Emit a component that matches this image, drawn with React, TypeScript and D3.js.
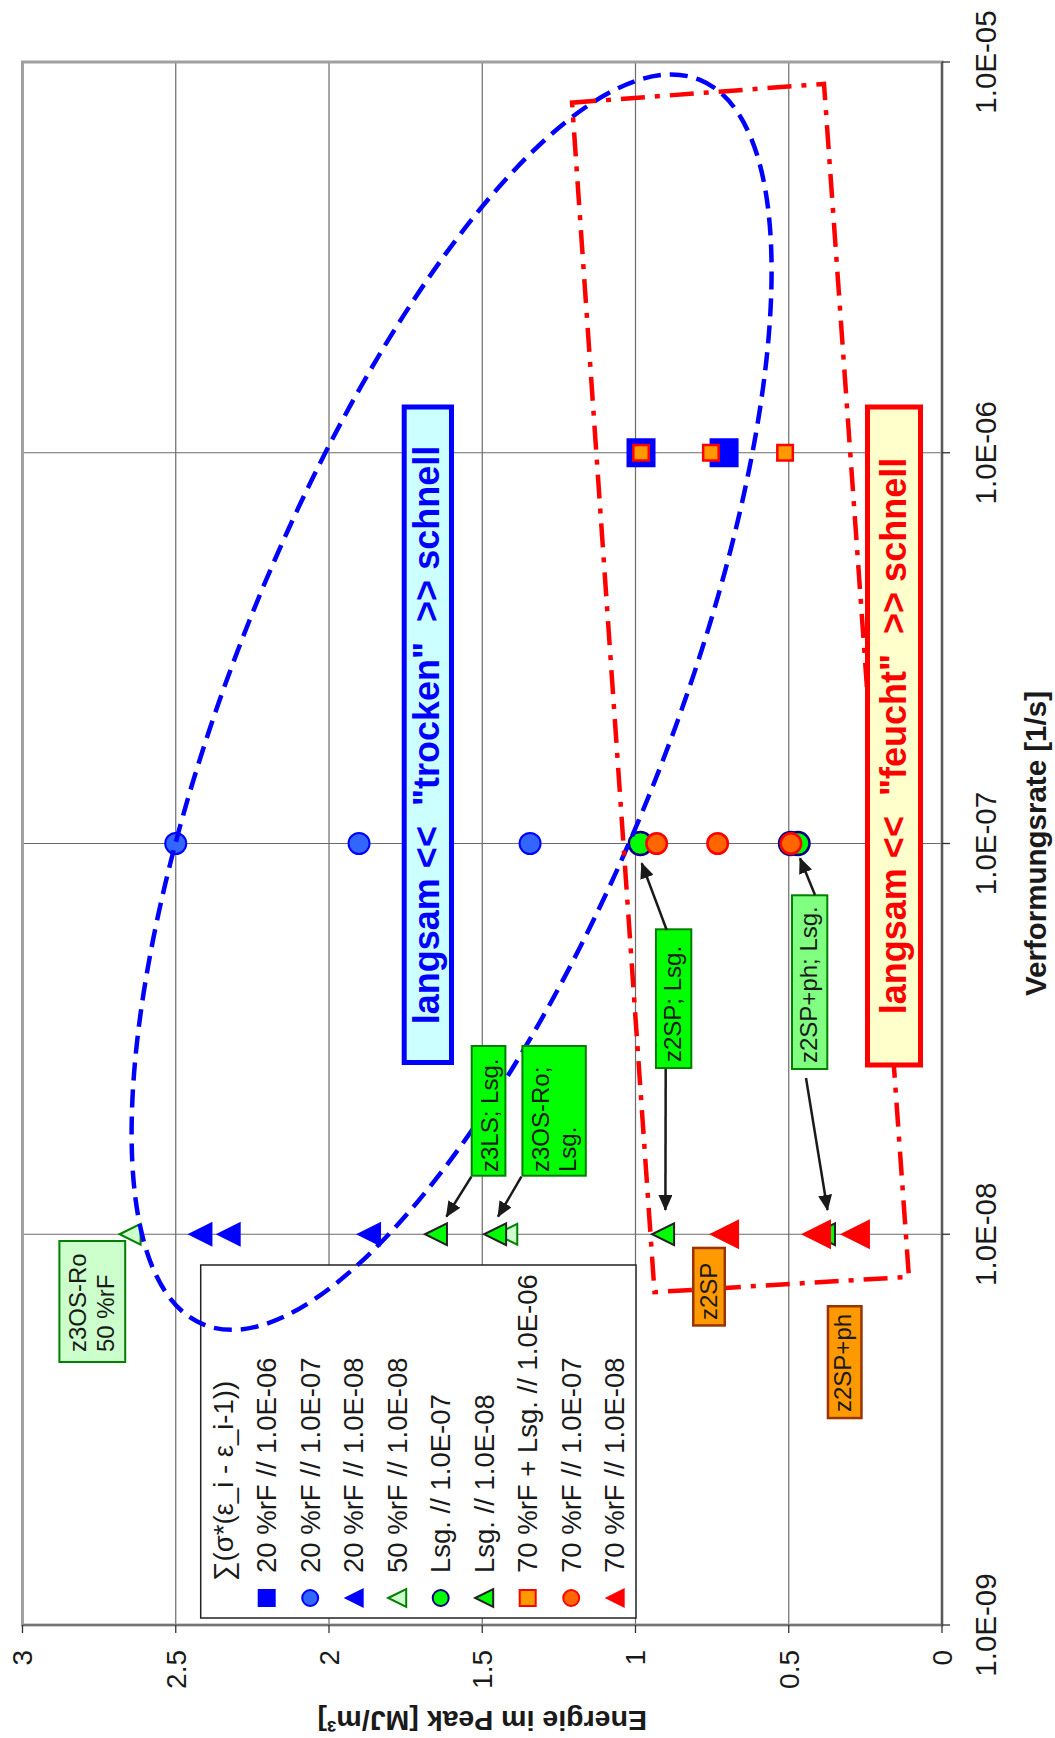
import React from 'react';
import * as d3 from 'd3';

// ---------- axis ticks ----------
const rateTicks = [1e-9, 1e-8, 1e-7, 1e-6, 1e-5];
const rateTickLabels = ['1.0E-09', '1.0E-08', '1.0E-07', '1.0E-06', '1.0E-05'];
const energyTicks = [0, 0.5, 1, 1.5, 2, 2.5, 3];
const energyTickLabels = ['0', '0.5', '1', '1.5', '2', '2.5', '3'];

// ---------- series ----------
const legendTitle = '\u2211(\u03c3*(\u03b5_i - \u03b5_i-1))';
const seriesNames = [
  '20 %rF // 1.0E-06',
  '20 %rF // 1.0E-07',
  '20 %rF // 1.0E-08',
  '50 %rF // 1.0E-08',
  'Lsg. // 1.0E-07',
  'Lsg. // 1.0E-08',
  '70 %rF + Lsg. // 1.0E-06',
  '70 %rF // 1.0E-07',
  '70 %rF // 1.0E-08',
];
const seriesRates = [1e-6, 1e-7, 1e-8, 1e-8, 1e-7, 1e-8, 1e-6, 1e-7, 1e-8];
const rF20_e6 = [0.982, 0.711];
const rF20_e7 = [2.5, 1.902, 1.344];
const rF20_e8 = [2.421, 2.329, 1.871];
const rF50_e8 = [2.649, 1.42];
const lsg_e7 = [0.984, 0.494, 0.47];
const lsg_e8 = [1.651, 1.458, 0.91, 0.385];
const rF70lsg_e6 = [0.982, 0.754, 0.512];
const rF70_e7 = [0.931, 0.732, 0.493];
const rF70_e8 = [0.711, 0.411, 0.284];
const seriesValues = [rF20_e6, rF20_e7, rF20_e8, rF50_e8, lsg_e7, lsg_e8, rF70lsg_e6, rF70_e7, rF70_e8];

// ---------- annotation shapes (data space) ----------
const ellipseCenter = { rate: 2.3e-7, energy: 1.6 };
const frameRates = [7.87e-6, 8.79e-6, 7.78e-9, 7.11e-9];
const frameEnergies = [1.207, 0.385, 0.108, 0.938];

// ---------- styles ----------
type Shape = 'square' | 'circle' | 'triangle';
const seriesStyle: { shape: Shape; size: number; fill: string; stroke: string; sw: number }[] = [
  { shape: 'square', size: 29, fill: '#0000ff', stroke: 'none', sw: 0 },
  { shape: 'circle', size: 23, fill: '#3366ff', stroke: '#0000ff', sw: 2 },
  { shape: 'triangle', size: 25, fill: '#0000ff', stroke: 'none', sw: 0 },
  { shape: 'triangle', size: 23, fill: '#ccffcc', stroke: '#008000', sw: 2 },
  { shape: 'circle', size: 25.6, fill: '#00ff00', stroke: '#000080', sw: 2.5 },
  { shape: 'triangle', size: 24, fill: '#00ff00', stroke: '#222222', sw: 2 },
  { shape: 'square', size: 18, fill: '#ff9900', stroke: '#ff0000', sw: 2.5 },
  { shape: 'circle', size: 23, fill: '#ff6600', stroke: '#ff0000', sw: 2.5 },
  { shape: 'triangle', size: 30, fill: '#ff0000', stroke: 'none', sw: 0 },
];

const FONT = "'Liberation Sans', Arial, Helvetica, sans-serif";
const W = 1738; // original (unrotated) width

function Marker({ shape, cx, cy, size, fill, stroke, sw }: any) {
  const s = size - (sw || 0);
  if (shape === 'square') {
    return <rect x={cx - s / 2} y={cy - s / 2} width={s} height={s} fill={fill} stroke={stroke} strokeWidth={sw} />;
  }
  if (shape === 'circle') {
    return <circle cx={cx} cy={cy} r={s / 2} fill={fill} stroke={stroke} strokeWidth={sw} />;
  }
  const p = d3.path();
  p.moveTo(cx, cy - s / 2);
  p.lineTo(cx + s / 2, cy + s / 2);
  p.lineTo(cx - s / 2, cy + s / 2);
  p.closePath();
  return <path d={p.toString()} fill={fill} stroke={stroke} strokeWidth={sw} strokeLinejoin="miter" />;
}

function Box({ x0, x1, y0, y1, fill, stroke, sw, lines, tx, baselines, size, color, weight, anchor }: any) {
  return (
    <g>
      <rect x={x0 + sw / 2} y={y0 + sw / 2} width={x1 - x0 - sw} height={y1 - y0 - sw} fill={fill} stroke={stroke} strokeWidth={sw} />
      {lines.map((t: string, i: number) => (
        <text key={i} x={tx} y={baselines[i]} fontSize={size} fill={color} fontWeight={weight || 'normal'}
          textAnchor={anchor || 'start'} style={{ whiteSpace: 'pre' }}>{t}</text>
      ))}
    </g>
  );
}

export default function App() {
  const x = d3.scaleLog().domain([1e-9, 1e-5]).range([113, 1676]);
  const y = d3.scaleLinear().domain([0, 3]).range([942, 22.5]);
  const [xl, xr] = x.range();
  const [yb, yt] = y.range();

  const framePts = frameRates.map((r, i) => [x(r), y(frameEnergies[i])] as [number, number]);
  const frameLine = d3.line().curve(d3.curveLinearClosed)(framePts) || '';
  const ecx = x(ellipseCenter.rate);
  const ecy = y(ellipseCenter.energy);

  const arrows = [
    [561.3, 471.4, 521.3, 446.4],
    [561.3, 521.4, 521.3, 498],
    [808, 666.7, 874.7, 641.7],
    [669, 665.7, 528, 665.4],
    [843, 815, 879.7, 800],
    [660, 806, 528, 827.5],
  ];

  const legX0 = 120, legX1 = 473, legY0 = 200.7, legY1 = 636;
  const legRow0 = 223.2, legStep = 43.5;

  return (
    <svg width={1055} height={1738} style={{ position: 'absolute', left: 0, top: 0, background: '#fff' }} fontFamily={FONT}>
      <defs>
        <marker id="ah" markerUnits="userSpaceOnUse" markerWidth={16} markerHeight={14} refX={15} refY={7} orient="auto">
          <path d="M0,0 L16,7 L0,14 Z" fill="#1a1a1a" />
        </marker>
      </defs>
      <rect x={0} y={0} width={1055} height={1738} fill="#fff" />
      <g transform={`translate(0,${W}) rotate(-90)`}>
        {/* gridlines */}
        {rateTicks.slice(1, -1).map((t) => (
          <line key={'gx' + t} x1={x(t)} x2={x(t)} y1={yt} y2={yb} stroke="#6b6b6b" strokeWidth={1.2} />
        ))}
        {energyTicks.slice(1, -1).map((t) => (
          <line key={'gy' + t} x1={xl} x2={xr} y1={y(t)} y2={y(t)} stroke="#6b6b6b" strokeWidth={1.2} />
        ))}
        {/* plot frame */}
        <rect x={xl} y={yt} width={xr - xl} height={yb - yt} fill="none" stroke="#a0a0a0" strokeWidth={3} />
        <line x1={xl} x2={xr} y1={yb} y2={yb} stroke="#333" strokeWidth={1.3} />
        <line x1={xl} x2={xl} y1={yt} y2={yb} stroke="#666" strokeWidth={1.5} />
        {/* ticks */}
        {rateTicks.map((t) => (
          <line key={'tx' + t} x1={x(t)} x2={x(t)} y1={yb} y2={yb + 8} stroke="#333" strokeWidth={1.3} />
        ))}
        {energyTicks.map((t) => (
          <line key={'ty' + t} x1={xl} x2={xl - 8} y1={y(t)} y2={y(t)} stroke="#333" strokeWidth={1.3} />
        ))}
        {/* tick labels */}
        {rateTicks.map((t, i) => (
          <text key={'lx' + t} x={x(t)} y={996} fontSize={29.5} textAnchor="middle" fill="#1a1a1a">{rateTickLabels[i]}</text>
        ))}
        {energyTicks.map((t, i) => (
          <text key={'ly' + t} x={88} y={y(t)} dy="0.35em" fontSize={28} textAnchor="end" fill="#1a1a1a">{energyTickLabels[i]}</text>
        ))}
        {/* axis titles */}
        <text x={(xl + xr) / 2} y={1046} fontSize={29.5} fontWeight="bold" textAnchor="middle" fill="#1a1a1a">Verformungsrate [1/s]</text>
        <text transform={`translate(27,${(yt + yb) / 2}) rotate(-90)`} fontSize={28.5} fontWeight="bold" textAnchor="middle" fill="#1a1a1a">
          {'Energie im Peak [MJ/m\u00b3]'}
        </text>

        {/* legend */}
        <rect x={legX0} y={legY0} width={legX1 - legX0} height={legY1 - legY0} fill="#fff" stroke="#222" strokeWidth={1.5} />
        <text x={157} y={legRow0} dy="0.35em" fontSize={27.5} fill="#1a1a1a">{legendTitle}</text>
        {seriesNames.map((n, i) => {
          const cy = legRow0 + legStep * (i + 1);
          const st = seriesStyle[i];
          const ls = st.shape === 'triangle' ? 20 : 18;
          return (
            <g key={'leg' + i}>
              <Marker shape={st.shape} cx={140} cy={cy} size={ls} fill={st.fill} stroke={st.stroke} sw={st.sw ? Math.min(st.sw, 2) : 0} />
              <text x={165} y={cy} dy="0.35em" fontSize={27.5} fill="#1a1a1a">{n}</text>
            </g>
          );
        })}

        {/* data markers */}
        {seriesValues.map((vals, i) =>
          vals.map((v, j) => {
            const st = seriesStyle[i];
            return <Marker key={'m' + i + '_' + j} shape={st.shape} cx={x(seriesRates[i])} cy={y(v)} size={st.size} fill={st.fill} stroke={st.stroke} sw={st.sw} />;
          })
        )}

        {/* annotation shapes */}
        <ellipse cx={ecx} cy={ecy} rx={670} ry={218} transform={`rotate(21.7,${ecx},${ecy})`} fill="none" stroke="#0000ff" strokeWidth={4.5} strokeDasharray="18 9" />
        <path d={frameLine} fill="none" stroke="#ff0000" strokeWidth={4.5} strokeDasharray="24 10 5 10" />

        {/* big text boxes */}
        <Box x0={673} x1={1333.5} y0={401.7} y1={454} fill="#ccffff" stroke="#0000ff" sw={5}
          lines={['langsam <<  "trocken"  >> schnell']} tx={1003} baselines={[439]} size={36} color="#0000ff" weight="bold" anchor="middle" />
        <Box x0={670.5} x1={1333.5} y0={865} y1={923} fill="#ffffcc" stroke="#ff0000" sw={5}
          lines={['langsam <<  "feucht"  >> schnell']} tx={1002} baselines={[906]} size={36} color="#ff0000" weight="bold" anchor="middle" />

        {/* small labels */}
        <Box x0={561.3} x1={693} y0={470.7} y1={506.4} fill="#00ff00" stroke="#008000" sw={2}
          lines={['z3LS; Lsg.']} tx={566} baselines={[498]} size={24} color="#1a1a1a" />
        <Box x0={561.3} x1={693} y0={521.4} y1={586.8} fill="#00ff00" stroke="#008000" sw={2}
          lines={['z3OS-Ro;', 'Lsg.']} tx={566} baselines={[549, 576]} size={24} color="#1a1a1a" />
        <Box x0={669} x1={809.7} y0={655} y1={692.3} fill="#00ff00" stroke="#008000" sw={2}
          lines={['z2SP; Lsg.']} tx={676} baselines={[680.5]} size={24} color="#1a1a1a" />
        <Box x0={668} x1={843.7} y0={791} y1={828.3} fill="#80ff80" stroke="#008000" sw={2}
          lines={['z2SP+ph; Lsg.']} tx={675} baselines={[817]} size={24} color="#1a1a1a" />
        <Box x0={375} x1={498} y0={58.4} y1={126.2} fill="#ccffcc" stroke="#008000" sw={2}
          lines={['z3OS-Ro', '50 %rF']} tx={386} baselines={[86, 114]} size={24} color="#1a1a1a" />
        <Box x0={411.3} x1={491.3} y0={692} y1={726} fill="#ff9900" stroke="#993300" sw={2.5}
          lines={['z2SP']} tx={418} baselines={[717]} size={24} color="#1a1a1a" />
        <Box x0={318.7} x1={433} y0={826.7} y1={862.7} fill="#ff9900" stroke="#993300" sw={2.5}
          lines={['z2SP+ph']} tx={326} baselines={[851]} size={24} color="#1a1a1a" />

        {/* arrows */}
        {arrows.map((a, i) => (
          <line key={'ar' + i} x1={a[0]} y1={a[1]} x2={a[2]} y2={a[3]} stroke="#1a1a1a" strokeWidth={2.5} markerEnd="url(#ah)" />
        ))}
      </g>
    </svg>
  );
}
